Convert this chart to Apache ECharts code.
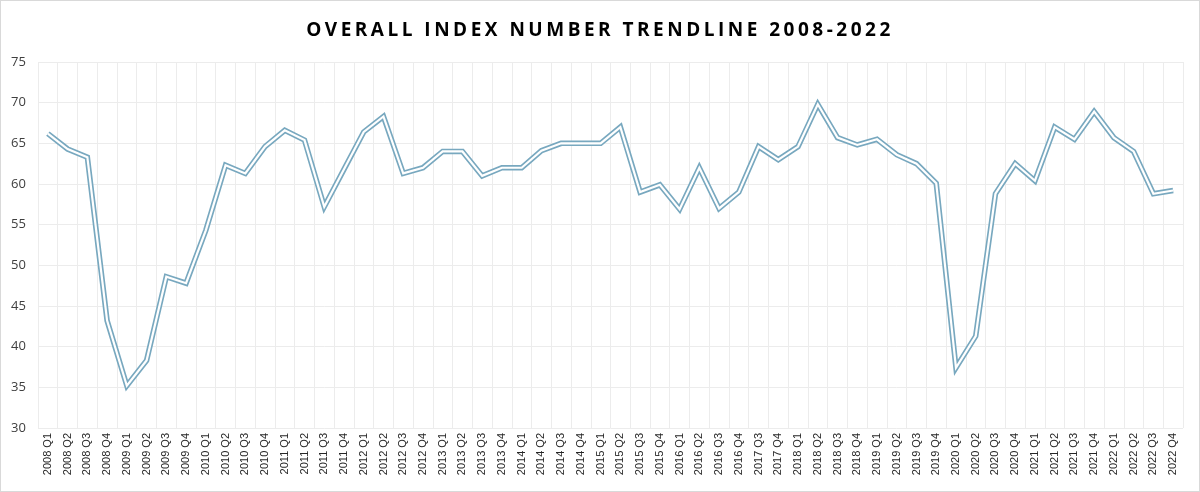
<!DOCTYPE html>
<html>
<head>
<meta charset="utf-8">
<script src="https://cdn.jsdelivr.net/npm/echarts@6/dist/echarts.min.js"></script>
<style>
  html, body { margin: 0; padding: 0; background: #fff; }
  #wrap { position: relative; width: 1200px; height: 492px; }
  #chart { width: 1200px; height: 492px; box-sizing: border-box; border: 1px solid #d9d9d9; }
  /* echarts has no letter-spacing for titles, so the spaced heading sits on top */
  #title {
    position: absolute; left: 0; right: 0; top: 16px;
    text-align: center;
    font-family: 'Open Sans', sans-serif; font-weight: bold;
    font-size: 19px; letter-spacing: 3.5px; color: #000;
    line-height: 26px;
  }
</style>
</head>
<body>
<div id="wrap">
  <div id="chart"></div>
  <div id="title">OVERALL INDEX NUMBER TRENDLINE 2008-2022</div>
</div>
<script>
// quarters as they appear on the axis (2017 Q1/Q2 are not in the source)
var quarters = [
  '2008 Q1','2008 Q2','2008 Q3','2008 Q4',
  '2009 Q1','2009 Q2','2009 Q3','2009 Q4',
  '2010 Q1','2010 Q2','2010 Q3','2010 Q4',
  '2011 Q1','2011 Q2','2011 Q3','2011 Q4',
  '2012 Q1','2012 Q2','2012 Q3','2012 Q4',
  '2013 Q1','2013 Q2','2013 Q3','2013 Q4',
  '2014 Q1','2014 Q2','2014 Q3','2014 Q4',
  '2015 Q1','2015 Q2','2015 Q3','2015 Q4',
  '2016 Q1','2016 Q2','2016 Q3','2016 Q4',
  '2017 Q3','2017 Q4',
  '2018 Q1','2018 Q2','2018 Q3','2018 Q4',
  '2019 Q1','2019 Q2','2019 Q3','2019 Q4',
  '2020 Q1','2020 Q2','2020 Q3','2020 Q4',
  '2021 Q1','2021 Q2','2021 Q3','2021 Q4',
  '2022 Q1','2022 Q2','2022 Q3','2022 Q4'
];

var indexValues = [
  66.2, 64.3, 63.3, 43.2,
  35.2, 38.3, 48.6, 47.8,
  54.3, 62.3, 61.3, 64.6,
  66.6, 65.4, 57.2, 61.8,
  66.4, 68.3, 61.3, 62.0,
  64.0, 64.0, 61.0, 62.0,
  62.0, 64.1, 65.0, 65.0,
  65.0, 67.0, 59.0, 59.9,
  56.9, 62.0, 57.0, 59.0,
  64.6, 63.0,
  64.6, 69.8, 65.7, 64.8,
  65.5, 63.6, 62.5, 60.1,
  37.4, 41.3, 58.8, 62.5,
  60.4, 67.0, 65.5, 68.9,
  65.7, 64.0, 58.8, 59.2
];

var myChart = echarts.init(document.getElementById('chart'));

var option = {
    backgroundColor: '#fff',
    animation: false,
    grid: {
        left: 37,
        right: 16,
        top: 61,
        bottom: 63
    },
    xAxis: {
        type: 'category',
        data: quarters,
        boundaryGap: true,
        axisLine: { show: false },
        axisTick: { show: false },
        splitLine: { show: true, lineStyle: { color: '#ececec', width: 1 } },
        axisLabel: {
            rotate: 90,
            interval: 0,
            margin: 5,
            fontFamily: 'Liberation Sans',
            fontSize: 11,
            color: '#262626'
        }
    },
    yAxis: {
        type: 'value',
        min: 30,
        max: 75,
        interval: 5,
        axisLine: { show: false },
        axisTick: { show: false },
        splitLine: { lineStyle: { color: '#ececec', width: 1 } },
        axisLabel: {
            align: 'left',
            margin: 27,
            fontFamily: 'Open Sans',
            fontSize: 13,
            color: '#404040'
        }
    },
    series: [
        {
            // outer stroke of the double line
            type: 'line',
            data: indexValues,
            symbol: 'none',
            z: 2,
            lineStyle: { color: '#78a8bf', width: 5.5, join: 'miter' }
        },
        {
            // white core
            type: 'line',
            data: indexValues,
            symbol: 'none',
            z: 3,
            lineStyle: { color: '#ffffff', width: 2.2, join: 'miter' }
        }
    ]
};

myChart.setOption(option);
</script>
</body>
</html>
